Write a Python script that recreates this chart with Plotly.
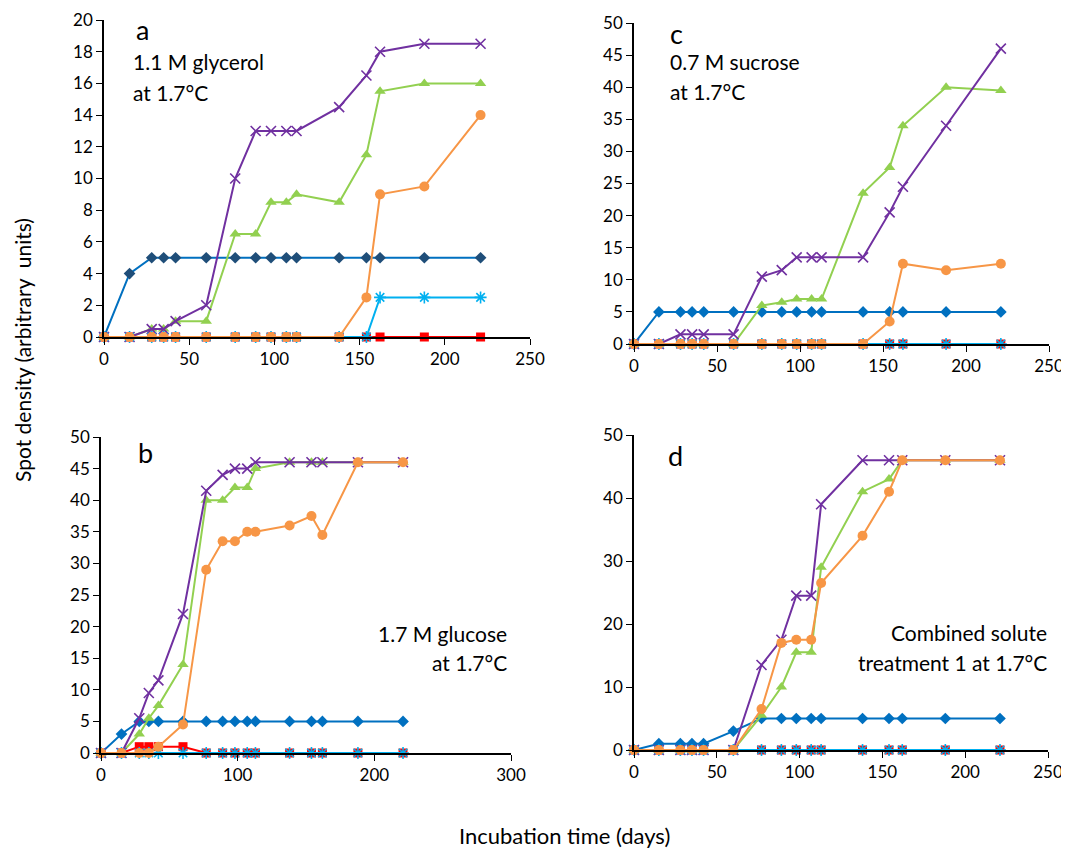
import plotly.graph_objects as go

OFF = 8  # default body margin of the html page
W, H = 1069, 850

days = [0, 15, 28, 35, 42, 60, 77, 89, 98, 107, 113, 138, 154, 162, 188, 221]

# Panel a: 1.1 M glycerol
a_blue   = [0, 4, 5, 5, 5, 5, 5, 5, 5, 5, 5, 5, 5, 5, 5, 5]
a_red    = [0] * 16
a_green  = [0, 0, 0.5, 0.5, 1, 1, 6.5, 6.5, 8.5, 8.5, 9, 8.5, 11.5, 15.5, 16, 16]
a_purple = [0, 0, 0.5, 0.5, 1, 2, 10, 13, 13, 13, 13, 14.5, 16.5, 18, 18.5, 18.5]
a_cyan   = [0, 0, 0, 0, 0, 0, 0, 0, 0, 0, 0, 0, 0, 2.5, 2.5, 2.5]
a_orange = [0, 0, 0, 0, 0, 0, 0, 0, 0, 0, 0, 0, 2.5, 9, 9.5, 14]

# Panel b: 1.7 M glucose
b_blue   = [0, 3, 5, 5, 5, 5, 5, 5, 5, 5, 5, 5, 5, 5, 5, 5]
b_red    = [0, 0, 1, 1, 1, 1, 0, 0, 0, 0, 0, 0, 0, 0, 0, 0]
b_green  = [0, 0, 3, 5.5, 7.5, 14, 40, 40, 42, 42, 45, 46, 46, 46, 46, 46]
b_purple = [0, 0, 5.5, 9.5, 11.5, 22, 41.5, 44, 45, 45, 46, 46, 46, 46, 46, 46]
b_cyan   = [0] * 16
b_orange = [0, 0, 0, 0, 1, 4.5, 29, 33.5, 33.5, 35, 35, 36, 37.5, 34.5, 46, 46]

# Panel c: 0.7 M sucrose
c_blue   = [0, 5, 5, 5, 5, 5, 5, 5, 5, 5, 5, 5, 5, 5, 5, 5]
c_red    = [0] * 16
c_green  = [0, 0, 0, 0, 0, 0, 6, 6.5, 7, 7, 7, 23.5, 27.5, 34, 40, 39.5]
c_purple = [0, 0, 1.5, 1.5, 1.5, 1.5, 10.5, 11.5, 13.5, 13.5, 13.5, 13.5, 20.5, 24.5, 34, 46]
c_cyan   = [0] * 16
c_orange = [0, 0, 0, 0, 0, 0, 0, 0, 0, 0, 0, 0, 3.5, 12.5, 11.5, 12.5]

# Panel d: combined solute treatment 1
d_blue   = [0, 1, 1, 1, 1, 3, 5, 5, 5, 5, 5, 5, 5, 5, 5, 5]
d_red    = [0] * 16
d_green  = [0, 0, 0, 0, 0, 0, 5.5, 10, 15.5, 15.5, 29, 41, 43, 46, 46, 46]
d_purple = [0, 0, 0, 0, 0, 0, 13.5, 17.5, 24.5, 24.5, 39, 46, 46, 46, 46, 46]
d_cyan   = [0] * 16
d_orange = [0, 0, 0, 0, 0, 0, 6.5, 17, 17.5, 17.5, 26.5, 34, 41, 46, 46, 46]

x_ticks_a = [0, 50, 100, 150, 200, 250]
x_ticks_b = [0, 100, 200, 300]

FONT = "Lato, 'Open Sans', sans-serif"

def fx(px):
    return (px - OFF) / W

def fy(py):
    return 1 - (py - OFF) / H

def px_dom_x(l, r):
    return [fx(l), fx(r)]

def px_dom_y(bottom, top):
    return [fy(bottom), fy(top)]

panels = [
    ("a", "x", "y", (a_blue, a_red, a_green, a_purple, a_cyan, a_orange),
     px_dom_x(104, 530), px_dom_y(337, 20), [0, 250], x_ticks_a, [0, 20], 2, "#1F4E79"),
    ("c", "x2", "y2", (c_blue, c_red, c_green, c_purple, c_cyan, c_orange),
     px_dom_x(634, 1049), px_dom_y(344, 23), [0, 250], x_ticks_a, [0, 50], 5, "#0070C0"),
    ("b", "x3", "y3", (b_blue, b_red, b_green, b_purple, b_cyan, b_orange),
     px_dom_x(101, 511), px_dom_y(753, 437), [0, 300], x_ticks_b, [0, 50], 5, "#0070C0"),
    ("d", "x4", "y4", (d_blue, d_red, d_green, d_purple, d_cyan, d_orange),
     px_dom_x(634, 1048), px_dom_y(750, 435), [0, 250], x_ticks_a, [0, 50], 10, "#0070C0"),
]

styles = [
    dict(line="#0070C0", symbol="diamond", size=9),
    dict(line="#FF0000", symbol="square", size=9),
    dict(line="#92D050", symbol="triangle-up", size=10),
    dict(line="#7030A0", symbol="x-thin-open", size=10),
    dict(line="#00B0F0", symbol="asterisk-open", size=10),
    dict(line="#F79646", symbol="circle", size=10),
]

fig = go.Figure()
layout = dict(width=W, height=H, margin=dict(l=0, r=0, t=0, b=0, autoexpand=False),
              plot_bgcolor="white", paper_bgcolor="white", showlegend=False,
              font=dict(family=FONT, size=17, color="black"))

for name, xa, ya, series, xd, yd, xr, xt, yr, ydt, bluemk in panels:
    for i, (vals, st) in enumerate(zip(series, styles)):
        mcolor = bluemk if i == 0 else st["line"]
        marker = dict(symbol=st["symbol"], size=st["size"], color=mcolor)
        if "open" in st["symbol"]:
            marker["line"] = dict(color=mcolor, width=1.6)
        else:
            marker["line"] = dict(width=0)
        fig.add_trace(go.Scatter(x=days, y=vals, xaxis=xa, yaxis=ya, mode="lines+markers",
                                 line=dict(color=st["line"], width=2), marker=marker,
                                 cliponaxis=False, hoverinfo="skip"))
    xkey = "xaxis" if xa == "x" else "xaxis" + xa[1:]
    ykey = "yaxis" if ya == "y" else "yaxis" + ya[1:]
    layout[xkey] = dict(domain=xd, range=xr, tickvals=xt, showgrid=False, zeroline=False,
                        showline=True, linecolor="black", linewidth=1.5, ticks="outside",
                        ticklen=6, tickcolor="black", anchor=ya, fixedrange=True,
                        automargin=False, tickfont=dict(size=17))
    layout[ykey] = dict(domain=yd, range=yr, dtick=ydt, tick0=0, showgrid=False, zeroline=False,
                        showline=True, linecolor="black", linewidth=1.5, ticks="outside",
                        ticklen=6, tickcolor="black", anchor=xa, fixedrange=True,
                        automargin=False, tickfont=dict(size=17))

fig.update_layout(**layout)

def ann(text, x, y, size=21, xanchor="left"):
    fig.add_annotation(text=text, x=fx(x), y=fy(y), xref="paper", yref="paper",
                       showarrow=False, xanchor=xanchor, yanchor="middle",
                       font=dict(size=size, family=FONT, color="black"))

ann("a", 134, 30, size=27)
ann("1.1 M glycerol", 131, 62)
ann("at 1.7°C", 131, 92)
ann("c", 668, 33, size=27)
ann("0.7 M sucrose", 668, 62)
ann("at 1.7°C", 668, 91)
ann("b", 136, 452, size=27)
ann("1.7 M glucose", 509, 633, xanchor="right")
ann("at 1.7°C", 509, 662, xanchor="right")
ann("d", 666, 455, size=27)
ann("Combined solute", 1049, 632, xanchor="right")
ann("treatment 1 at 1.7°C", 1049, 662, xanchor="right")

fig.add_annotation(text="Spot density (arbitrary  units)", x=fx(22), y=fy(350),
                   xref="paper", yref="paper", showarrow=False, textangle=-90,
                   xanchor="center", yanchor="middle",
                   font=dict(size=21, family=FONT, color="black"))
fig.add_annotation(text="Incubation time (days)", x=fx(564), y=fy(835),
                   xref="paper", yref="paper", showarrow=False,
                   xanchor="center", yanchor="middle",
                   font=dict(size=22, family=FONT, color="black"))

fig.write_html("out.html")
